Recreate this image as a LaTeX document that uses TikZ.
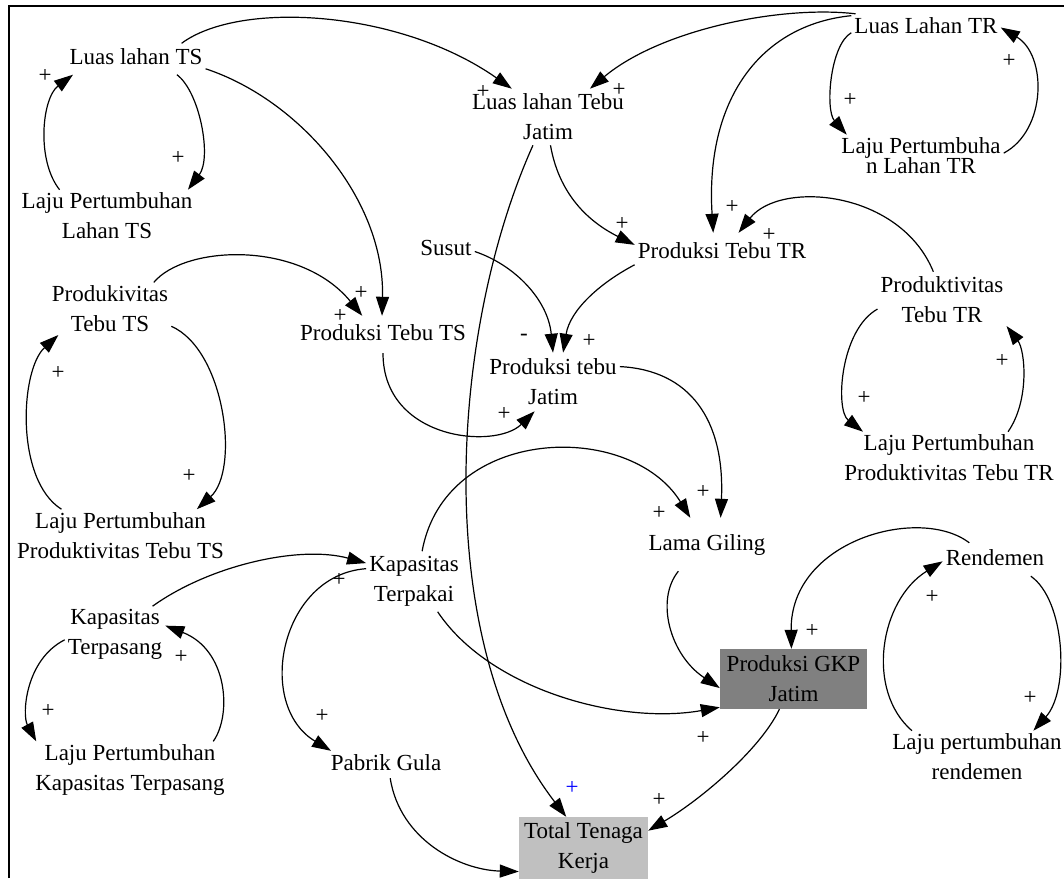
\documentclass[tikz,border=0pt]{standalone}
\usepackage{fontspec}
\setmainfont{Liberation Serif}
\usetikzlibrary{arrows.meta}
\definecolor{boxdark}{RGB}{128,128,128}
\definecolor{boxlight}{RGB}{192,192,192}
\begin{document}
\begin{tikzpicture}[x=1pt,y=-1pt,
  v1/.style={font=\fontsize{23}{30}\selectfont, inner xsep=3pt, inner ysep=3pt, text height=16pt, text depth=5pt},
  v2/.style={font=\fontsize{23}{30}\selectfont, inner xsep=3pt, inner ysep=3pt, align=center},
  cl/.style={line width=1.2pt, -{Triangle[length=19pt,width=13pt]}},
  pol/.style={font=\fontsize{23}{23}\selectfont, inner sep=0pt},
  frameline/.style={line width=1.6pt}
]
\useasboundingbox (0,0) rectangle (1064,878);
\draw[frameline] (9,878) -- (9,6) -- (1064,6);

% variables
\node[v1, inner ysep=5pt] (lts) at (136,59) {Luas lahan TS};
\node[v2] (ljts) at (107,216) {Laju Pertumbuhan\\Lahan TS};
\node[v2, inner ysep=5pt] (ltj) at (548,117) {Luas lahan Tebu\\Jatim};
\node[v1] (ltr) at (926,27.5) {Luas Lahan TR};
\node[v2] (ljtr) at (921,156) {Laju Pertumbuha\\[-10pt]n Lahan TR};
\node[v1] (susut) at (446,249.5) {Susut};
\node[v1, inner ysep=9pt] (ptr) at (722,252.5) {Produksi Tebu TR};
\node[v2] (pvts) at (110,308.7) {Produkivitas\\Tebu TS};
\node[v1, inner ysep=8pt] (pts) at (383,334.5) {Produksi Tebu TS};
\node[v2, inner ysep=6pt] (ptj) at (553,382) {Produksi tebu\\Jatim};
\node[v2, inner ysep=5pt] (pvtr) at (942,300) {Produktivitas\\Tebu TR};
\node[v2] (ljptr) at (949,458) {Laju Pertumbuhan\\Produktivitas Tebu TR};
\node[v2] (ljpts) at (120.5,535.5) {Laju Pertumbuhan\\Produktivitas Tebu TS};
\node[v1, inner ysep=16pt] (lg) at (707,544.5) {Lama Giling};
\node[v2, inner ysep=5pt] (ktk) at (414,581.5) {Kapasitas\\Terpakai};
\node[v2] (kts) at (115,634.5) {Kapasitas\\Terpasang};
\node[v1, inner ysep=6pt] (rend) at (995,559.5) {Rendemen};
\node[v2, fill=boxdark, minimum width=147pt, minimum height=60pt, inner sep=0pt] (gkp) at (793.5,679) {Produksi GKP\\Jatim};
\node[v2] (ljkt) at (130,770) {Laju Pertumbuhan\\Kapasitas Terpasang};
\node[v1] (pg) at (386,764.5) {Pabrik Gula};
\node[v2, fill=boxlight, minimum width=129pt, minimum height=62pt, inner sep=0pt] (ttk) at (583.5,848) {Total Tenaga\\Kerja};
\node[v2] (ljr) at (977,757) {Laju pertumbuhan\\rendemen};

% connectors
\draw[cl] (lts.-21) .. controls (200,92) and (212,158) .. (ljts.18);
\draw[cl] (ljts.151) .. controls (36,160) and (42,98) .. (lts.194);
\draw[cl] (lts.19.4) .. controls (240,0) and (400,10) .. (ltj.142.1);
\draw[cl] (lts.-8.2) .. controls (300,100) and (385,200) .. (pts.93);
\draw[cl] (pvts.31.8) .. controls (185,245) and (300,240) .. (pts.138.6);
\draw[cl] (pvts.-16.7) .. controls (225,350) and (240,470) .. (ljpts.19.2);
\draw[cl] (ljpts.156.9) .. controls (15,480) and (20,370) .. (pvts.207.5);
\draw[cl] (pts.-90) .. controls (383,440) and (495,450) .. (ptj.238.2);
\draw[cl] (ltj.-85.9) .. controls (560,200) and (595,225) .. (ptr.175.1);
\draw[cl] (ltj.-118.2) .. controls (450,330) and (430,640) .. (ttk.119.4);
\draw[cl] (susut.-4.9) .. controls (515,265) and (548,300) .. (ptj.90);
\draw[cl] (ptr.188.7) .. controls (600,283) and (570,310) .. (ptj.71);
\draw[cl] (ltr.169.8) .. controls (780,5) and (660,30) .. (ltj.34.3);
\draw[cl] (ltr.171.3) .. controls (760,25) and (705,100) .. (ptr.114.8);
\draw[cl] (pvtr.107.8) .. controls (900,190) and (780,180) .. (ptr.50.6);
\draw[cl] (ltr.184.3) .. controls (830,45) and (825,110) .. (ljtr.164.6);
\draw[cl] (ljtr.2.1) .. controls (1047,130) and (1047,55) .. (ltr.0);
\draw[cl] (pvtr.188.1) .. controls (840,330) and (835,410) .. (ljptr.163.5);
\draw[cl] (ljptr.24.6) .. controls (1030,400) and (1025,350) .. (pvtr.-22.1);
\draw[cl] (ptj.13.2) .. controls (690,370) and (725,420) .. (lg.63.9);
\draw[cl] (ktk.75.3) .. controls (445,425) and (630,420) .. (lg.122.7);
\draw[cl] (lg.223.4) .. controls (655,600) and (670,655) .. (gkp.187);
\draw[cl] (ktk.-52.3) .. controls (490,690) and (620,725) .. (gkp.201.5);
\draw[cl] (rend.147.6) .. controls (920,505) and (790,540) .. (gkp.94.8);
\draw[cl] (rend.-25.7) .. controls (1065,600) and (1070,690) .. (ljr.25.3);
\draw[cl] (ljr.158.2) .. controls (865,690) and (880,600) .. (rend.182.7);
\draw[cl] (gkp.-115.8) .. controls (760,750) and (700,800) .. (ttk.15.6);
\draw[cl] (pg.-73.5) .. controls (400,840) and (460,870) .. (ttk.200.4);
\draw[cl] (kts.37.6) .. controls (210,565) and (300,545) .. (ktk.159.3);
\draw[cl] (ktk.165.7) .. controls (280,575) and (255,705) .. (pg.166.7);
\draw[cl] (kts.186.2) .. controls (25,660) and (22,715) .. (ljkt.163.1);
\draw[cl] (ljkt.19.5) .. controls (232,715) and (228,650) .. (kts.10.8);

% polarity signs
\node[pol] (s1) at (178,158) {+};
\node[pol] (s2) at (45,76) {+};
\node[pol] (s3) at (483,92) {+};
\node[pol] (s4) at (361,293) {+};
\node[pol] (s5) at (340,316) {+};
\node[pol] (s6) at (189,476) {+};
\node[pol] (s7) at (58,373) {+};
\node[pol] (s8) at (504,414) {+};
\node[pol] (s9) at (622,224) {+};
\node[pol, text=blue] (s10) at (572,788) {+};
\node[pol] (s11) at (524,337) {-};
\node[pol] (s12) at (589,341) {+};
\node[pol] (s13) at (619,90) {+};
\node[pol] (s14) at (732,207) {+};
\node[pol] (s15) at (769,235) {+};
\node[pol] (s16) at (850,100) {+};
\node[pol] (s17) at (1009,61) {+};
\node[pol] (s18) at (864,398) {+};
\node[pol] (s19) at (1002,361) {+};
\node[pol] (s20) at (703,492) {+};
\node[pol] (s21) at (659,513) {+};
\node[pol] (s23) at (703,738) {+};
\node[pol] (s24) at (812,631) {+};
\node[pol] (s25) at (1030,698) {+};
\node[pol] (s26) at (932,597) {+};
\node[pol] (s27) at (659,800) {+};
\node[pol] (s29) at (339,580) {+};
\node[pol] (s30) at (322,716) {+};
\node[pol] (s31) at (48,711) {+};
\node[pol] (s32) at (181,657) {+};
\end{tikzpicture}
\end{document}
